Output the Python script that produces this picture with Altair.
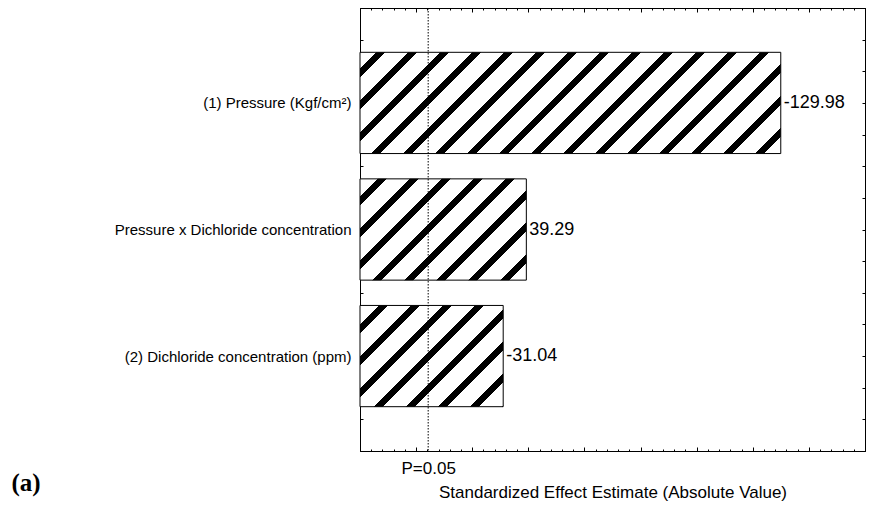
import altair as alt
import pandas as pd

# ---------------- data ----------------
factors = [
    "(1) Pressure (Kgf/cm²)",
    "Pressure x Dichloride concentration",
    "(2) Dichloride concentration (ppm)",
]
positions = [1, 2, 3]
effects = [-129.98, 39.29, -31.04]
effect_labels = ["-129.98", "39.29", "-31.04"]
t_critical = 4.303
p_label = "P=0.05"
x_title = "Standardized Effect Estimate (Absolute Value)"
panel_label = "(a)"

x_minor_ticks = list(range(-20, 161, 4))
x_major_ticks = list(range(-20, 161, 20))
y_ticks = [0.25 * i for i in range(1, 16)]

# ---------------- layout / style ----------------
X_MIN, X_MAX = -20, 160
Y_MIN, Y_MAX = 0.25, 3.75
W, H = 505, 443
BAR_HALF = 0.4
PITCH, BLACK, PHASE = 32.0, 9.5, 1.0
FONT = "Liberation Sans"

sx = W / (X_MAX - X_MIN)
sy = H / (Y_MAX - Y_MIN)

df = pd.DataFrame({
    "factor": factors,
    "pos": positions,
    "abs": [abs(v) for v in effects],
    "label": effect_labels,
})
df["base"] = X_MIN
df["y0"] = df["pos"] - BAR_HALF
df["y1"] = df["pos"] + BAR_HALF

xscale = alt.Scale(domain=[X_MIN, X_MAX], nice=False, zero=False)
yscale = alt.Scale(domain=[Y_MIN, Y_MAX], nice=False, zero=False, reverse=True)


def hatch_gradient(row):
    wb = (row["abs"] - X_MIN) * sx
    hb = 2 * BAR_HALF * sy
    top = (row["pos"] - BAR_HALF - Y_MIN) * sy
    L = wb + hb
    k = wb * (wb + hb) / (wb ** 2 + hb ** 2)
    stops = [{"offset": 0, "color": "white"}]
    n = int((top - PHASE) // PITCH) - 2
    while True:
        lc = PHASE + n * PITCH - top
        s, e = lc - BLACK / 2, lc + BLACK / 2
        if s >= L:
            break
        if e > 0:
            s2, e2 = max(s, 0) / L, min(e, L) / L
            stops += [
                {"offset": s2, "color": "white"},
                {"offset": s2, "color": "black"},
                {"offset": e2, "color": "black"},
                {"offset": e2, "color": "white"},
            ]
        n += 1
    stops.append({"offset": 1, "color": "white"})
    return {"gradient": "linear", "x1": 0, "y1": 0, "x2": k, "y2": k * hb / wb,
            "stops": stops}


label_expr = " : ".join(
    f"datum.value == {p} ? '{f}'" for p, f in zip(positions, factors)
) + " : ''"

axis_x_main = alt.Axis(
    values=[t_critical], labelExpr=f"'{p_label}'", ticks=False, tickSize=0,
    domain=False, grid=False, labelFont=FONT, labelFontSize=17, labelColor="black",
    labelPadding=9, title=x_title, titleFont=FONT, titleFontSize=17,
    titleFontWeight="normal", titleColor="black", titleY=46,
    titleBaseline="alphabetic", labelLimit=0,
)
axis_y_main = alt.Axis(
    values=positions, labelExpr=label_expr, ticks=False, tickSize=0, domain=False,
    grid=False, labelFont=FONT, labelFontSize=15, labelColor="black", labelPadding=9,
    labelLimit=0,
    title=panel_label, titleAngle=0, titleX=-349, titleY=482, titleAlign="left",
    titleBaseline="alphabetic", titleFont="Liberation Serif", titleFontWeight="bold",
    titleFontSize=25, titleColor="black",
)


def tick_axis(orient, values, size, offset):
    return alt.Axis(orient=orient, values=values, tickSize=size, labels=False,
                    domain=False, grid=False, title=None, offset=offset,
                    tickColor="black", tickWidth=1, zindex=1)


layers = []
for i, row in df.iterrows():
    enc = dict(
        x=alt.X("base:Q", scale=xscale, axis=axis_x_main if i == 0 else None),
        x2="abs:Q",
        y=alt.Y("y0:Q", scale=yscale, axis=axis_y_main if i == 0 else None),
        y2="y1:Q",
    )
    layers.append(
        alt.Chart(df.iloc[[i]]).mark_rect(
            fill=hatch_gradient(row), stroke="black", strokeWidth=1
        ).encode(**enc)
    )

values_layer = alt.Chart(df).mark_text(
    align="left", baseline="middle", dx=3, font=FONT, fontSize=18, color="black"
).encode(
    x=alt.X("abs:Q", scale=xscale, axis=tick_axis("top", x_minor_ticks, 2, -H)),
    y=alt.Y("pos:Q", scale=yscale, axis=tick_axis("left", y_ticks, 3, -W)),
    text="label:N",
)

p_df = pd.DataFrame({"t": [t_critical]})
p_rule = alt.Chart(p_df).mark_rule(
    color="black", strokeWidth=1, strokeDash=[1.5, 1.5]
).encode(
    x=alt.X("t:Q", scale=xscale, axis=tick_axis("top", x_major_ticks, 4, -H)),
)

dummy1 = alt.Chart(df).mark_point(opacity=0).encode(
    x=alt.X("abs:Q", scale=xscale, axis=tick_axis("bottom", x_minor_ticks, 2, -H)),
    y=alt.Y("pos:Q", scale=yscale, axis=tick_axis("right", y_ticks, 3, -W)),
)
dummy2 = alt.Chart(df).mark_point(opacity=0).encode(
    x=alt.X("abs:Q", scale=xscale, axis=tick_axis("bottom", x_major_ticks, 4, -H)),
)

chart = alt.layer(*layers, values_layer, p_rule, dummy1, dummy2).resolve_axis(
    x="independent", y="independent"
).properties(
    width=W, height=H, autosize="none",
    padding={"left": 352, "top": 0, "right": 1, "bottom": 52},
).configure_view(stroke="black", strokeWidth=1)

chart.save("out.html", embed_options={"renderer": "svg", "actions": False})
